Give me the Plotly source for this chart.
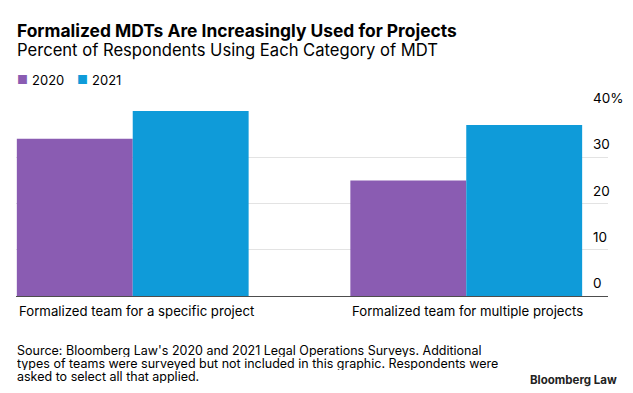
import plotly.graph_objects as go

categories = ["Formalized team for a specific project", "Formalized team for multiple projects"]
years = ["2020", "2021"]
values_2020 = [34, 25]
values_2021 = [40, 37]
tick_vals = [0, 10, 20, 30, 40]
tick_text = ["0", "10", "20", "30", "40%"]
source_lines = [
    "Source: Bloomberg Law's 2020 and 2021 Legal Operations Surveys. Additional",
    "types of teams were surveyed but not included in this graphic. Respondents were",
    "asked to select all that applied.",
]

colors = {"2020": "#8A5CB2", "2021": "#0F9BD9"}
FONT = "Inter"
bargap = 0.305

# figure is offset by the page's 8px body margin
W, H = 625, 385
L, R, T, B = 8, 25, 103, 97
PW, PH = W - L - R, H - T - B


def px(page_x):
    return (page_x - 8 - L) / PW


def py(page_y):
    return (H - B - (page_y - 8)) / PH


fig = go.Figure()
for yr, vals in zip(years, [values_2020, values_2021]):
    fig.add_trace(go.Bar(
        x=list(range(len(categories))), y=vals, name=yr,
        marker=dict(color=colors[yr], line=dict(width=0)),
        showlegend=False, hoverinfo="skip",
    ))

fig.update_layout(
    width=W, height=H,
    margin=dict(l=L, r=R, t=T, b=B, autoexpand=False),
    paper_bgcolor="white", plot_bgcolor="white",
    barmode="group", bargap=bargap, bargroupgap=0,
    font=dict(family=FONT, color="#000"),
    xaxis=dict(range=[-0.35, 1.425], showticklabels=False, showgrid=False,
               zeroline=False, showline=True, linecolor="#4d4d4d", linewidth=1.3,
               fixedrange=True),
    yaxis=dict(range=[0, 40], tickvals=tick_vals, showticklabels=False,
               showgrid=True, gridcolor="#e3e3e3", gridwidth=1,
               zeroline=False, showline=False, ticks="", fixedrange=True),
)

# Tick labels (above gridlines, right side)
for v, t in zip(tick_vals, tick_text):
    fig.add_annotation(xref="paper", yref="y", x=px(591), y=v, yshift=3,
                       xanchor="left", yanchor="bottom", text=t, showarrow=False,
                       font=dict(size=13.5, family=FONT, color="#000"))

# Title & subtitle
fig.add_annotation(xref="paper", yref="paper", x=px(15), y=py(30), xanchor="left", yanchor="middle",
                   text="<b>Formalized MDTs Are Increasingly Used for Projects</b>", showarrow=False,
                   font=dict(size=17.4, family=FONT, color="#000"))
fig.add_annotation(xref="paper", yref="paper", x=px(15), y=py(50), xanchor="left", yanchor="middle",
                   text="Percent of Respondents Using Each Category of MDT", showarrow=False,
                   font=dict(size=16.6, family=FONT, color="#000"))

# Legend
legend_x = [(16, 30), (76, 90)]
for yr, (sx, tx) in zip(years, legend_x):
    fig.add_annotation(xref="paper", yref="paper", x=px(sx - 1), y=py(80), xanchor="left", yanchor="middle",
                       text=f"<span style='color:{colors[yr]}'>■</span>", showarrow=False,
                       font=dict(size=12, family=FONT))
    fig.add_annotation(xref="paper", yref="paper", x=px(tx), y=py(80), xanchor="left", yanchor="middle",
                       text=yr, showarrow=False, font=dict(size=13, family=FONT, color="#000"))

# Category labels
half = (1 - bargap) / 2
for i, cat in enumerate(categories):
    fig.add_annotation(xref="x", yref="paper", x=i - half, y=py(311), xanchor="left", yanchor="middle",
                       text=cat, showarrow=False, font=dict(size=13.2, family=FONT, color="#000"))

# Source
for k, line in enumerate(source_lines):
    fig.add_annotation(xref="paper", yref="paper", x=px(15), y=py(350 + 13.3 * k), xanchor="left",
                       yanchor="middle", text=line, showarrow=False, height=13,
                       font=dict(size=12.5, family=FONT, color="#000"))
fig.add_annotation(xref="paper", yref="paper", x=px(619), y=py(380), xanchor="right", yanchor="middle",
                   text="<b>Bloomberg Law</b>", showarrow=False, font=dict(size=11.5, family=FONT, color="#222"))

fig.write_html("out.html")
